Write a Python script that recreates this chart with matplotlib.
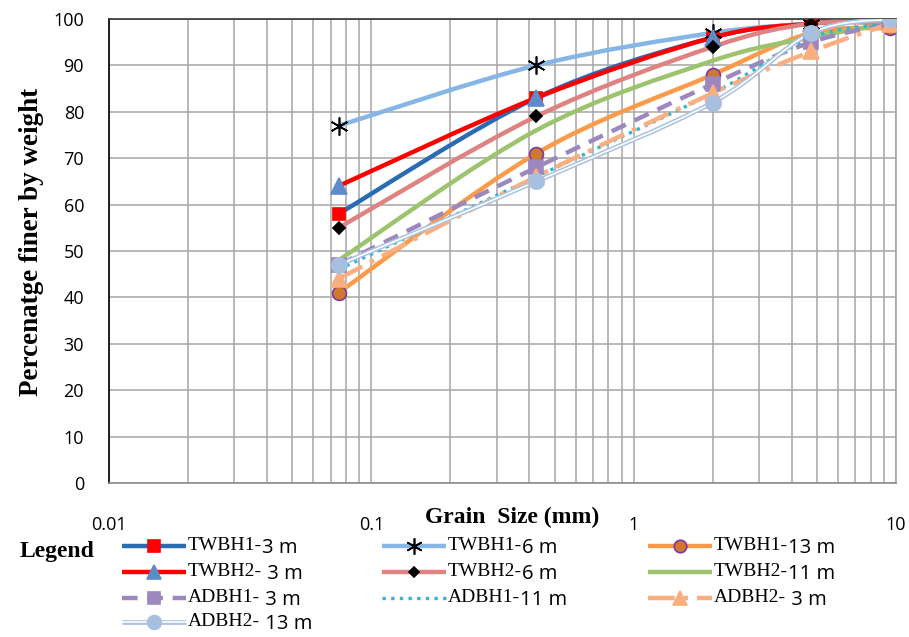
import numpy as np
import matplotlib
matplotlib.use('Agg')
from matplotlib import pyplot as plt
from matplotlib.path import Path
from matplotlib.patches import PathPatch
from matplotlib.lines import Line2D
from matplotlib.ticker import FixedLocator, NullFormatter

# sieve sizes (mm)
sizes = [0.075, 0.425, 2.0, 4.75, 9.5]

twbh1_3 = [58, 83, 96, 99, 100]
twbh1_6 = [77, 90, 97, 99, 100]
twbh1_13 = [41, 71, 88, 97, 98]
twbh2_3 = [64, 83, 96, 99, 100]
twbh2_6 = [55, 79, 94, 99, 99]
twbh2_11 = [48, 76, 91, 96, 99]
adbh1_3 = [47, 68, 86, 95, 99]
adbh1_11 = [46, 66, 84, 96, 99]
adbh2_3 = [44, 66, 84, 93, 99]
adbh2_13 = [47, 65, 82, 97, 100]

names = [('TWBH1-', '3 m'), ('TWBH1-', '6 m'), ('TWBH1-', '13 m'),
         ('TWBH2-', ' 3 m'), ('TWBH2-', '6 m'), ('TWBH2-', '11 m'),
         ('ADBH1-', ' 3 m'), ('ADBH1-', '11 m'), ('ADBH2-', ' 3 m'),
         ('ADBH2-', ' 13 m')]
series = [twbh1_3, twbh1_6, twbh1_13, twbh2_3, twbh2_6, twbh2_11,
          adbh1_3, adbh1_11, adbh2_3, adbh2_13]

# line / marker styles (Excel look)
styles = [
    dict(color='#2a6cb3', lw=3.2, ls='-', marker='s', mfc='#ff0000', mec='#ff0000', ms=9),
    dict(color='#86b6e6', lw=3.2, ls='-', marker=(6, 2, 0), mfc='k', mec='k', ms=13),
    dict(color='#fb9a48', lw=3.2, ls='-', marker='o', mfc='#d2772e', mec='#7a3aa0', ms=10),
    dict(color='#ff0000', lw=3.2, ls='-', marker='^', mfc='#5e8cc8', mec='#5e8cc8', ms=11),
    dict(color='#de8282', lw=3.2, ls='-', marker='D', mfc='k', mec='k', ms=6),
    dict(color='#9cc46e', lw=3.2, ls='-', marker=None),
    dict(color='#9d87bf', lw=3.2, ls=(0, (3.5, 2.2)), marker='s', mfc='#9d87bf', mec='#9d87bf', ms=10),
    dict(color='#33b4d0', lw=2.4, ls=(0, (1, 1.6)), marker=None),
    dict(color='#fbae80', lw=3.2, ls=(0, (6, 2, 1, 2)), marker='^', mfc='#fbae80', mec='#fbae80', ms=11),
    dict(color='#a9c2e2', lw=3.4, ls='-', marker='o', mfc='#a8c0e0', mec='#a8c0e0', ms=11, double=True),
]


def smooth_path(xs, ys):
    # Excel-like smoothed line: Catmull-Rom bezier through the points (log x)
    pts = np.column_stack([np.log10(xs), np.asarray(ys, float)])
    n = len(pts)
    verts = [pts[0]]
    codes = [Path.MOVETO]
    for i in range(n - 1):
        p0 = pts[max(i - 1, 0)]
        p1 = pts[i]
        p2 = pts[i + 1]
        p3 = pts[min(i + 2, n - 1)]
        verts += [p1 + (p2 - p0) / 6, p2 - (p3 - p1) / 6, p2]
        codes += [Path.CURVE4] * 3
    verts = np.array(verts)
    verts[:, 0] = 10 ** verts[:, 0]
    return Path(verts, codes)


fig = plt.figure(figsize=(9.09, 6.37), dpi=100)
ax = fig.add_axes([0.12, 0.2418, 0.8657, 0.7284])
ax.set_xscale('log')
ax.set_xlim(0.01, 10)
ax.set_ylim(0, 100)

for vals, st in zip(series, styles):
    p = smooth_path(sizes, vals)
    ax.add_patch(PathPatch(p, fill=False, edgecolor=st['color'], lw=st['lw'],
                           linestyle=st['ls'], capstyle='butt', zorder=3))
    if st.get('double'):
        ax.add_patch(PathPatch(p, fill=False, edgecolor='white', lw=1.2, zorder=3))
    if st['marker'] is not None:
        ax.plot(sizes, vals, ls='none', marker=st['marker'], mfc=st['mfc'],
                mec=st['mec'], ms=st['ms'], mew=1.2, zorder=4)

ax.set_yticks(np.arange(0, 101, 10))
ax.xaxis.set_major_locator(FixedLocator([0.01, 0.1, 1, 10]))
ax.set_xticklabels(['0.01', '0.1', '1', '10'])
ax.xaxis.set_minor_formatter(NullFormatter())
ax.grid(True, which='both', color='#a6a6a6', lw=1.1)
ax.set_axisbelow(True)
ax.tick_params(axis='both', which='both', length=0, labelsize=13)
ax.tick_params(axis='y', pad=18)
ax.tick_params(axis='x', pad=24)
for lab in ax.get_xticklabels() + ax.get_yticklabels():
    lab.set_family('Open Sans')
ax.spines['left'].set_color('black')
ax.spines['top'].set_color('#333333')
ax.spines['bottom'].set_color('#8c8c8c')
ax.spines['right'].set_color('#a6a6a6')
for s in ax.spines.values():
    s.set_linewidth(1.2)

fig.text(0.035, 0.62, 'Percenatge finer by weight', rotation=90, ha='center',
         va='center', family='Liberation Serif', weight='bold', fontsize=19.5)
fig.text(0.563, 0.187, 'Grain  Size (mm)', ha='center', va='center',
         family='Liberation Serif', weight='bold', fontsize=17)

# legend, drawn by hand (mixed fonts as in the original)
fig.text(0.063, 0.135, 'Legend', ha='center', va='center',
         family='Liberation Serif', weight='bold', fontsize=17)
col_x = [122, 382, 648]
row_y = [546, 572, 598, 622]
W, H = 909.0, 637.0
for k, ((pre, suf), st) in enumerate(zip(names, styles)):
    x0 = col_x[k % 3]
    y = 1 - row_y[k // 3] / H
    xs = [x0 / W, (x0 + 64) / W]
    fig.add_artist(Line2D(xs, [y, y], transform=fig.transFigure, color=st['color'],
                          lw=st['lw'], ls=st['ls'], solid_capstyle='butt'))
    if st.get('double'):
        fig.add_artist(Line2D(xs, [y, y], transform=fig.transFigure, color='white', lw=1.2))
    if st['marker'] is not None:
        fig.add_artist(Line2D([(x0 + 32) / W], [y], transform=fig.transFigure,
                              ls='none', marker=st['marker'], mfc=st['mfc'], mec=st['mec'],
                              ms=st['ms'] * 0.9, mew=1.2))
    t = fig.text((x0 + 66) / W, y, pre, ha='left', va='center',
                 family='Liberation Serif', fontsize=14)
    fig.add_artist(matplotlib.text.Annotation(suf, xy=(1, 0.4), xycoords=t, va='center',
                                              ha='left', family='Open Sans', fontsize=14.5))

fig.savefig('out.png', dpi=100)
